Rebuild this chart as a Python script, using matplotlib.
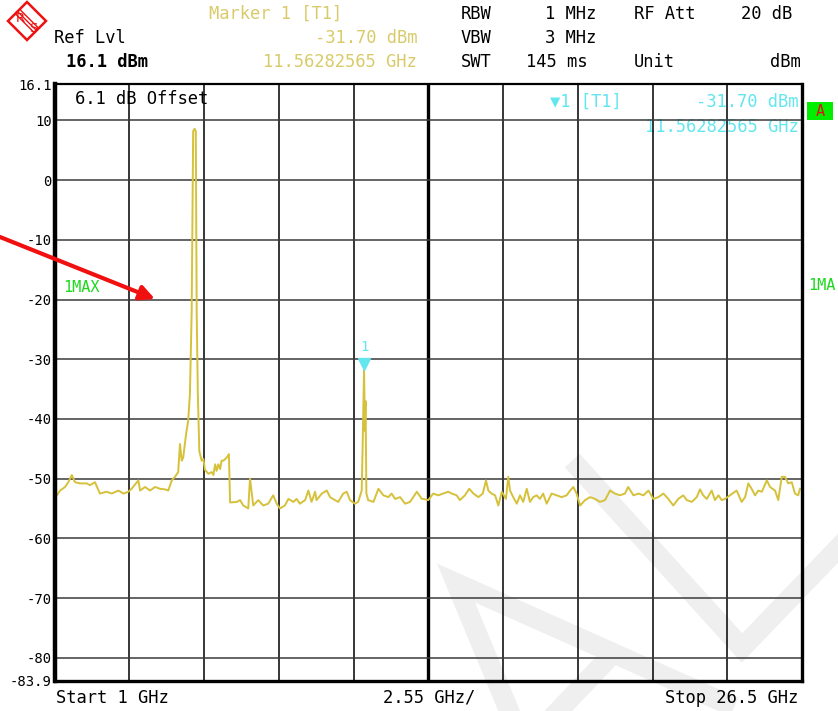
import matplotlib
matplotlib.use("Agg")
import matplotlib.pyplot as plt
from matplotlib.lines import Line2D
from matplotlib.patches import Polygon, Rectangle

# sweep trace (GHz / dBm)
freq_ghz = [1.00, 1.08, 1.19, 1.36, 1.47, 1.59, 1.70, 1.87, 2.10, 2.21, 2.38, 2.55,
            2.78, 2.95, 3.18, 3.35, 3.52, 3.63, 3.86, 3.92, 4.09, 4.26, 4.43, 4.60,
            4.77, 4.88, 5.00, 5.11, 5.22, 5.28, 5.34, 5.39, 5.49, 5.56, 5.62, 5.68,
            5.73, 5.78, 5.82, 5.85, 5.89, 5.94, 6.02, 6.08, 6.13, 6.25, 6.36, 6.42,
            6.48, 6.53, 6.59, 6.65, 6.70, 6.76, 6.87, 6.95, 6.99, 7.22, 7.33, 7.44,
            7.61, 7.67, 7.78, 7.95, 8.12, 8.29, 8.46, 8.58, 8.69, 8.86, 8.98, 9.15,
            9.26, 9.37, 9.55, 9.66, 9.77, 9.89, 9.94, 10.12, 10.29, 10.40, 10.57, 10.68,
            10.85, 10.97, 11.08, 11.25, 11.36, 11.48, 11.51, 11.56, 11.59, 11.61, 11.64, 11.70,
            11.88, 12.05, 12.22, 12.39, 12.50, 12.62, 12.79, 12.96, 13.13, 13.36, 13.53, 13.58,
            13.75, 13.92, 14.09, 14.26, 14.43, 14.55, 14.72, 14.83, 15.00, 15.15, 15.29, 15.46,
            15.61, 15.72, 15.80, 15.91, 16.03, 16.14, 16.26, 16.40, 16.48, 16.54, 16.65, 16.77,
            16.88, 16.99, 17.11, 17.22, 17.33, 17.45, 17.56, 17.67, 17.79, 17.96, 18.13, 18.30,
            18.47, 18.59, 18.70, 18.81, 18.93, 19.10, 19.27, 19.44, 19.61, 19.78, 19.95, 20.12,
            20.29, 20.46, 20.57, 20.75, 20.92, 21.09, 21.26, 21.43, 21.60, 21.77, 21.94, 22.11,
            22.28, 22.45, 22.57, 22.74, 22.91, 23.02, 23.13, 23.25, 23.42, 23.53, 23.65, 23.76,
            23.87, 24.04, 24.27, 24.44, 24.56, 24.67, 24.78, 24.90, 25.01, 25.13, 25.30, 25.41,
            25.58, 25.69, 25.81, 25.92, 26.03, 26.15, 26.26, 26.37, 26.43]
level_dbm = [-51.7, -52.8, -52.0, -51.4, -50.6, -49.4, -50.6, -50.8, -50.8, -51.1, -50.6, -52.5,
             -52.2, -52.5, -52.0, -52.5, -52.2, -51.7, -50.3, -52.0, -51.4, -52.0, -51.4, -51.7,
             -51.8, -52.0, -50.3, -49.7, -48.9, -44.2, -47.0, -46.5, -42.5, -40.3, -35.8, -21.9,
             8.2, 8.6, 8.2, -21.9, -35.8, -45.4, -47.0, -46.7, -48.5, -49.2, -48.9, -49.4,
             -47.6, -48.7, -47.6, -48.4, -47.0, -47.0, -46.5, -45.9, -54.0, -53.9, -53.6, -54.5,
             -55.0, -50.0, -54.5, -53.6, -54.5, -54.2, -52.8, -54.2, -55.0, -54.5, -53.4, -53.9,
             -53.4, -54.2, -53.6, -52.0, -53.9, -52.2, -53.6, -52.5, -52.0, -53.1, -53.6, -53.9,
             -52.5, -52.2, -53.6, -54.2, -53.9, -52.0, -45.0, -31.7, -42.0, -37.0, -52.5, -53.6,
             -53.9, -51.7, -52.8, -53.1, -52.5, -53.4, -53.1, -54.2, -53.9, -52.2, -53.4, -53.4,
             -53.6, -52.5, -52.8, -52.5, -52.2, -52.5, -52.8, -53.6, -52.8, -51.7, -52.5, -53.1,
             -52.5, -50.3, -52.0, -52.5, -52.8, -54.5, -52.2, -53.4, -49.7, -52.0, -53.1, -54.2,
             -52.8, -53.9, -51.7, -53.9, -53.1, -52.8, -53.4, -52.5, -54.2, -52.5, -52.8, -53.1,
             -52.8, -52.0, -51.4, -52.5, -54.5, -53.6, -53.1, -53.4, -53.9, -53.6, -52.0, -52.5,
             -52.8, -52.5, -51.4, -52.8, -52.5, -52.8, -52.0, -53.4, -53.1, -52.5, -53.4, -54.5,
             -53.4, -52.8, -53.6, -53.9, -53.1, -51.8, -52.8, -53.4, -52.0, -53.6, -52.8, -53.6,
             -53.4, -52.8, -52.0, -53.9, -53.1, -50.8, -51.7, -52.8, -52.0, -52.2, -50.3, -51.4,
             -52.0, -53.6, -49.7, -49.7, -50.8, -50.6, -52.5, -52.8, -51.7]

f_start, f_stop = 1.0, 26.5
ref_lvl, bottom_lvl = 16.1, -83.9
y_ticks = [16.1, 10, 0, -10, -20, -30, -40, -50, -60, -70, -80, -83.9]
y_labels = ["16.1", "10", "0", "-10", "-20", "-30", "-40", "-50", "-60", "-70", "-80", "-83.9"]
marker_f, marker_lvl = 11.56282565, -31.70

W, H = 838, 711
YELLOW = "#d6c13a"
HEAD_YELLOW = "#d9cb6a"
CYAN = "#63e6ee"
GREEN = "#1ed81e"
RED = "#ee1111"
MONO = ["DejaVu Sans Mono", "DejaVu Sans"]

fig = plt.figure(figsize=(W / 100, H / 100), dpi=100)
fig.patch.set_facecolor("white")


def ftext(x, y, s, **kw):
    # x, y in screen pixels from the top-left corner
    kw.setdefault("family", MONO)
    kw.setdefault("fontsize", 12.3)
    kw.setdefault("va", "center")
    return fig.text(x / W, 1 - y / H, s, **kw)


# faint watermark in the lower right
def wm(pts, lw=14.5):
    xs = [p[0] / W for p in pts]
    ys = [1 - p[1] / H for p in pts]
    fig.add_artist(Line2D(xs, ys, transform=fig.transFigure, color="#efefef",
                          lw=lw, solid_joinstyle="miter", zorder=-5))

wm([(579, 468), (742, 648), (870, 515)])
wm([(515, 725), (456, 583), (725, 703)])
wm([(602, 665), (545, 725)])

ax = fig.add_axes([54.5 / W, 1 - 681 / H, 747.5 / W, 597 / H])
ax.set_facecolor("none")
ax.set_xlim(f_start, f_stop)
ax.set_ylim(bottom_lvl, ref_lvl)

# graticule
step = (f_stop - f_start) / 10
for k in range(1, 10):
    ax.axvline(f_start + k * step, color="black", lw=2.4 if k == 5 else 1.1, zorder=1)
for v in y_ticks[1:-1]:
    ax.axhline(v, color="#3a3a3a", lw=1.1, zorder=1)
for side, lw in [("left", 3.2), ("right", 2.4), ("bottom", 2.4), ("top", 1.6)]:
    ax.spines[side].set_linewidth(lw)
    ax.spines[side].set_zorder(4)

ax.set_xticks([])
ax.set_yticks(y_ticks)
ax.set_yticklabels(y_labels, family=MONO, fontsize=10)
ax.tick_params(axis="y", length=0, pad=2)

ax.plot(freq_ghz, level_dbm, color=YELLOW, lw=1.4, zorder=3)

# marker 1
ax.plot([marker_f], [marker_lvl + 0.9], marker="v", color=CYAN, markersize=8, zorder=5, ls="none")
ax.annotate("1", (marker_f, marker_lvl), xytext=(0, 16), textcoords="offset points",
            ha="center", va="center", color=CYAN, family=MONO, fontsize=10, zorder=5)

# texts inside the graticule (drawn under the grid like on the instrument)
ax.text(0.027, 0.975, "6.1 dB Offset", transform=ax.transAxes, family=MONO, fontsize=12.3,
        va="center", ha="left", zorder=0)
ax.text(0.663, 0.970, "\u25bc1 [T1]", transform=ax.transAxes, family=MONO, fontsize=12.3,
        va="center", ha="left", color=CYAN, zorder=0)
ax.text(0.995, 0.970, "-31.70 dBm", transform=ax.transAxes, family=MONO, fontsize=12.3,
        va="center", ha="right", color=CYAN, zorder=0)
ax.text(0.995, 0.928, "11.56282565 GHz", transform=ax.transAxes, family=MONO, fontsize=12.3,
        va="center", ha="right", color=CYAN, zorder=0)
ax.text(0.011, 0.659, "1MAX", transform=ax.transAxes, family=MONO, fontsize=11,
        va="center", ha="left", color=GREEN)

# red arrow
ax.annotate("", xy=(155, H - 299), xytext=(-5, H - 235), xycoords="figure pixels",
            textcoords="figure pixels", annotation_clip=False,
            arrowprops=dict(arrowstyle="-|>", color="#f01010", lw=3, mutation_scale=22,
                            shrinkA=0, shrinkB=0), zorder=6)

# header
ftext(209, 14, "Marker 1 [T1]", color=HEAD_YELLOW)
ftext(417, 38, "-31.70 dBm", color=HEAD_YELLOW, ha="right")
ftext(417, 62, "11.56282565 GHz", color=HEAD_YELLOW, ha="right")
ftext(54, 38, "Ref Lvl")
ftext(66, 62, "16.1 dBm", fontweight="semibold")
ftext(461, 14, "RBW")
ftext(596, 14, "1 MHz", ha="right")
ftext(634, 14, "RF Att")
ftext(792, 14, "20 dB", ha="right")
ftext(461, 38, "VBW")
ftext(596, 38, "3 MHz", ha="right")
ftext(461, 62, "SWT")
ftext(526, 62, "145 ms")
ftext(634, 62, "Unit")
ftext(801, 62, "dBm", ha="right")

# bottom line
ftext(56, 698, "Start 1 GHz")
ftext(383, 698, "2.55 GHz/")
ftext(798, 698, "Stop 26.5 GHz", ha="right")

# right hand status (trace label is cut by the screen edge)
fig.add_artist(Rectangle((807 / W, 1 - 120 / H), 26 / W, 18 / H, transform=fig.transFigure,
                         facecolor="#00ee00", edgecolor="none"))
ftext(820, 111, "A", color="#e01010", ha="center", fontsize=11)
ftext(808, 285, "1MA", color=GREEN, fontsize=11)

# R&S logo
cx, cy, r = 27, 21, 19
diamond = [(cx / W, 1 - (cy - r) / H), ((cx + r) / W, 1 - cy / H),
           (cx / W, 1 - (cy + r) / H), ((cx - r) / W, 1 - cy / H)]
fig.add_artist(Polygon(diamond, closed=True, transform=fig.transFigure, fill=False,
                       edgecolor=RED, lw=1.8))
for d in (-2.2, 0, 2.2):
    fig.add_artist(Line2D([(cx - 9 + d) / W, (cx + 9 + d) / W],
                          [1 - (cy - 9 - d) / H, 1 - (cy + 9 - d) / H],
                          transform=fig.transFigure, color=RED, lw=1.0))
ftext(cx - 7, cy - 2, "R", color=RED, fontsize=9.5, ha="center", family="DejaVu Sans")
ftext(cx + 6, cy + 7, "S", color=RED, fontsize=9.5, ha="center", family="DejaVu Sans")

fig.savefig("out.png", dpi=100)
